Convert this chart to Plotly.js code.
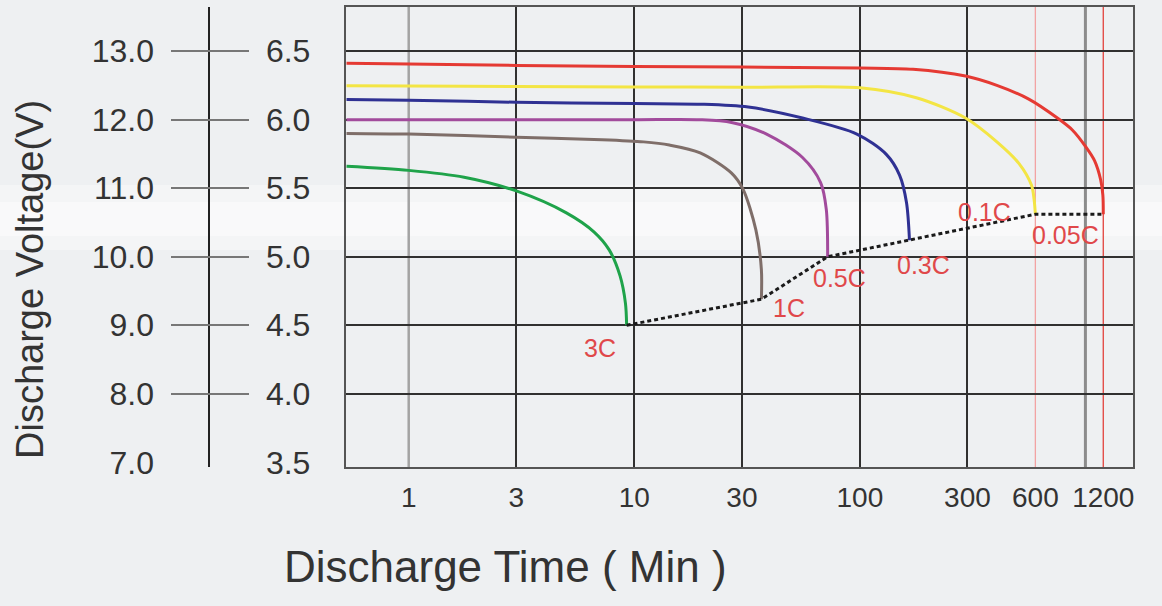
<!DOCTYPE html>
<html>
<head>
<meta charset="utf-8">
<script src="https://cdn.plot.ly/plotly-3.0.1.min.js"></script>
<style>
html,body{margin:0;padding:0;background:#eef0f2;}
#chart{width:1162px;height:606px;}
</style>
</head>
<body>
<div id="chart"></div>
<script>
// ---- axis ticks ----
const timeTickVals = [1, 3, 10, 30, 100, 300, 600, 1200];
const timeTickText = ['1', '3', '10', '30', '100', '300', '600', '1200'];
const timeGridDark = [3, 10, 30, 100, 300];
const voltGrid6 = [4.0, 4.5, 5.0, 5.5, 6.0, 6.5];

// ---- discharge curves (time in min, voltage per 6V block) ----
const rateNames  = ['3C', '1C', '0.5C', '0.3C', '0.1C', '0.05C'];
const rateColors = ['#1fa34a', '#7f6e69', '#a24b9c', '#2f3193', '#f3e544', '#e53a33'];

const t3C  = [0.53, 1, 1.76, 3, 5, 6.64, 7.74, 8.65, 9.14, 9.25];
const v3C  = [5.66, 5.63, 5.58, 5.48, 5.32, 5.18, 5.05, 4.86, 4.66, 4.50];

const t1C  = [0.53, 1, 3, 7.2, 11, 14.3, 19.6, 27, 30.3, 34.6, 36.6, 36.6];
const v1C  = [5.90, 5.895, 5.872, 5.854, 5.838, 5.815, 5.758, 5.61, 5.495, 5.196, 4.906, 4.69];

const t05C = [0.53, 1, 3, 10, 19.6, 27, 38.6, 55.7, 67, 71, 72];
const v05C = [6.00, 6.00, 6.00, 6.00, 6.00, 5.98, 5.895, 5.724, 5.541, 5.346, 5.00];

const t03C = [0.53, 1, 3, 10, 19.6, 32, 55.7, 97, 131, 150, 161, 166];
const v03C = [6.148, 6.142, 6.127, 6.118, 6.113, 6.092, 6.012, 5.895, 5.747, 5.596, 5.396, 5.12];

const t01C = [0.53, 1, 3, 10, 30, 100, 178, 294, 405, 509, 577, 592, 600];
const v01C = [6.248, 6.245, 6.242, 6.239, 6.236, 6.233, 6.16, 6.012, 5.838, 5.678, 5.521, 5.42, 5.31];

const t005C = [0.53, 1, 3, 10, 30, 100, 172, 294, 405, 561, 754, 875, 1006, 1099, 1169, 1195, 1200];
const v005C = [6.412, 6.406, 6.396, 6.387, 6.384, 6.377, 6.368, 6.318, 6.25, 6.15, 6.01, 5.925, 5.80, 5.70, 5.56, 5.45, 5.31];

// label offsets (px) from each curve's end point
const labelDx = [-27, 28, 12, 14, -51, -38];
const labelDy = [-23, -9, -21, -25, 2, -21];

// ---- layout geometry ----
const W = 1162, H = 606;
const plotLeft = 346, plotRight = 1133, plotTop = 7, plotBottom = 467;
const yRange = [3.466, 6.822];
const xRange = [-0.278, 3.211];
const px = v => v / W;
const py = v => (plotBottom - v) / (plotBottom - plotTop);

const seriesT = [t3C, t1C, t05C, t03C, t01C, t005C];
const seriesV = [v3C, v1C, v05C, v03C, v01C, v005C];

const traces = seriesT.map((t, i) => ({
  type: 'scatter', mode: 'lines', name: rateNames[i],
  x: t, y: seriesV[i],
  line: {color: rateColors[i], width: 3, shape: 'spline', smoothing: 0.85},
  hoverinfo: 'skip', showlegend: false
}));

const endT = seriesT.map(t => t[t.length - 1]);
const endV = seriesV.map(v => v[v.length - 1]);
traces.push({
  type: 'scatter', mode: 'lines', name: 'end voltage',
  x: endT, y: endV,
  line: {color: '#1a1a1a', width: 3, dash: '4px,3px'},
  hoverinfo: 'skip', showlegend: false
});
// empty traces so the side label axes get their subplots
['y2', 'y3', 'y4'].forEach(ax => traces.push({type: 'scatter', x: [], y: [], yaxis: ax, showlegend: false, hoverinfo: 'skip'}));

const font = 'Liberation Sans, Arial, Helvetica, sans-serif';

const annotations = rateNames.map((n, i) => ({
  xref: 'x', yref: 'y', x: Math.log10(endT[i]), y: endV[i],
  text: n, showarrow: false, xshift: labelDx[i], yshift: labelDy[i],
  font: {family: font, size: 25, color: '#e0484a'}
}));
annotations.push({
  xref: 'paper', yref: 'paper', x: px(30), y: py(280),
  text: 'Discharge Voltage(V)', textangle: -90, showarrow: false,
  xanchor: 'center', yanchor: 'middle',
  font: {family: font, size: 38, color: '#333'}
});
annotations.push({
  xref: 'paper', yref: 'paper', x: px(505), y: py(566),
  text: 'Discharge Time ( Min )', showarrow: false,
  xanchor: 'center', yanchor: 'middle',
  font: {family: font, size: 44, color: '#333'}
});

const vline = (x, color, width) => ({
  type: 'line', xref: 'x', yref: 'paper', x0: x, x1: x, y0: 0, y1: 1,
  line: {color: color, width: width}, layer: 'between'
});

const shapes = [
  {type: 'rect', xref: 'paper', yref: 'paper', x0: 0, x1: 1, y0: py(250), y1: py(185),
   fillcolor: 'rgba(255,255,255,0.35)', line: {width: 0}, layer: 'below'},
  {type: 'rect', xref: 'paper', yref: 'paper', x0: 0, x1: 1, y0: py(236), y1: py(202),
   fillcolor: 'rgba(255,255,255,0.45)', line: {width: 0}, layer: 'below'},
  vline(1, '#a3a3a3', 2.5),
  vline(1000, '#8c8c8c', 3),
  vline(600, '#f2a3a3', 1.3),
  vline(1200, '#e2423c', 1.3)
];

const layout = {
  width: W, height: H,
  margin: {l: 0, r: 0, t: plotTop, b: H - plotBottom, pad: 0},
  paper_bgcolor: '#eef0f2',
  plot_bgcolor: 'rgba(0,0,0,0)',
  showlegend: false,
  xaxis: {
    type: 'log', domain: [px(plotLeft), px(plotRight)], range: xRange,
    tickmode: 'array', tickvals: timeTickVals, ticktext: timeTickText,
    ticks: '', showgrid: false, zeroline: false,
    minor: {tickmode: 'array', tickvals: timeGridDark, showgrid: true, gridcolor: '#303030', gridwidth: 2, ticks: ''},
    showline: true, mirror: true, linecolor: '#555', linewidth: 2,
    tickfont: {family: font, size: 28, color: '#333'},
    ticklabelstandoff: 4, fixedrange: true
  },
  yaxis: {
    domain: [0, 1], range: yRange,
    tickmode: 'array', tickvals: voltGrid6, showticklabels: false, ticks: '',
    showgrid: true, gridcolor: '#303030', gridwidth: 1.8, zeroline: false,
    showline: true, mirror: true, linecolor: '#555', linewidth: 2, fixedrange: true
  },
  yaxis2: {
    overlaying: 'y', anchor: 'free', position: px(208), side: 'right',
    range: yRange, tickmode: 'linear', tick0: 3.5, dtick: 0.5, tickformat: '.1f',
    ticks: '', showgrid: false, zeroline: false,
    showline: true, linecolor: '#222', linewidth: 1.5,
    tickfont: {family: font, size: 32, color: '#333'}, ticklabelstandoff: 50, fixedrange: true
  },
  yaxis3: {
    overlaying: 'y', anchor: 'free', position: px(208), side: 'left',
    range: yRange.map(v => v * 2), tickmode: 'linear', tick0: 7, dtick: 1, tickformat: '.1f',
    ticks: '', showgrid: false, zeroline: false, showline: false,
    tickfont: {family: font, size: 32, color: '#333'}, ticklabelstandoff: 54, fixedrange: true
  },
  yaxis4: {
    overlaying: 'y', anchor: 'free', position: px(170), side: 'right',
    range: yRange, tickmode: 'array', tickvals: voltGrid6,
    ticks: 'outside', ticklen: 78, tickwidth: 2, tickcolor: '#777',
    showticklabels: false, showgrid: false, zeroline: false, showline: false, fixedrange: true
  },
  shapes: shapes,
  annotations: annotations
};

Plotly.newPlot('chart', traces, layout, {displayModeBar: false, staticPlot: true});
</script>
</body>
</html>
